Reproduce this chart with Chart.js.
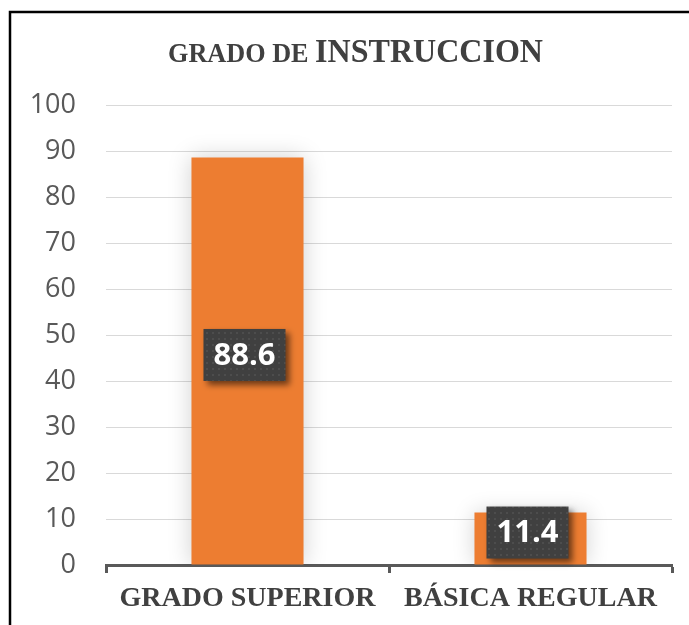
<!DOCTYPE html>
<html>
<head>
<meta charset="utf-8">
<script src="https://cdn.jsdelivr.net/npm/chart.js@4"></script>
<style>
  html, body { margin: 0; padding: 0; background: #fff; }
  #wrap { width: 689px; height: 625px; position: relative; }
</style>
</head>
<body>
<div id="wrap"><canvas id="chart1"></canvas></div>
<script>
const categories = ['GRADO SUPERIOR', 'BÁSICA REGULAR'];
const values = [88.6, 11.4];
const yTicks = [0, 10, 20, 30, 40, 50, 60, 70, 80, 90, 100];

// patrón de puntos para las etiquetas
function dotPattern(ctx) {
    const c = document.createElement('canvas');
    c.width = 6; c.height = 6;
    const p = c.getContext('2d');
    p.fillStyle = '#404040';
    p.fillRect(0, 0, 6, 6);
    p.fillStyle = '#4d4d4d';
    p.fillRect(2, 2, 2, 2);
    return ctx.createPattern(c, 'repeat');
}

const frame = {
    id: 'frame',
    beforeDraw(chart) {
        const ctx = chart.ctx;
        ctx.save();
        ctx.fillStyle = '#fff';
        ctx.fillRect(0, 0, chart.width, chart.height);
        ctx.strokeStyle = '#000';
        ctx.lineWidth = 2.5;
        ctx.beginPath();
        ctx.moveTo(10, chart.height + 2);
        ctx.lineTo(10, 12);
        ctx.lineTo(chart.width + 2, 12);
        ctx.stroke();
        ctx.restore();
    },
    afterDraw(chart) {
        // título con dos tamaños, un poco condensado
        const ctx = chart.ctx;
        ctx.save();
        ctx.fillStyle = '#404040';
        ctx.textBaseline = 'alphabetic';
        const f1 = 'bold 27px "Liberation Serif"';
        const f2 = 'bold 33px "Liberation Serif"';
        ctx.font = f1;
        const w1 = ctx.measureText('GRADO DE ').width;
        ctx.font = f2;
        const w2 = ctx.measureText('INSTRUCCION').width;
        const sx = 375 / (w1 + w2);
        ctx.translate(168, 62);
        ctx.scale(sx, 1);
        ctx.font = f1;
        ctx.fillText('GRADO DE ', 0, 0);
        ctx.font = f2;
        ctx.fillText('INSTRUCCION', w1, 0);
        ctx.restore();
    }
};

const barGlow = {
    id: 'barGlow',
    beforeDatasetsDraw(chart) {
        const ctx = chart.ctx;
        ctx.save();
        ctx.shadowColor = 'rgba(0,0,0,0.18)';
        ctx.shadowBlur = 22;
    },
    afterDatasetsDraw(chart) {
        const ctx = chart.ctx;
        ctx.restore();
        // etiquetas de datos
        const meta = chart.getDatasetMeta(0);
        ctx.save();
        ctx.font = 'bold 31px "Open Sans"';
        ctx.textAlign = 'center';
        ctx.textBaseline = 'middle';
        const pat = dotPattern(ctx);
        meta.data.forEach((bar, i) => {
            const txt = String(values[i]);
            const w = ctx.measureText(txt).width + 20;
            const h = 52;
            const cx = bar.x - 3;
            const cy = (bar.y + bar.base) / 2 - 6;
            ctx.save();
            ctx.shadowColor = 'rgba(0,0,0,0.55)';
            ctx.shadowBlur = 6;
            ctx.shadowOffsetX = 4;
            ctx.shadowOffsetY = 4;
            ctx.fillStyle = pat;
            ctx.fillRect(cx - w / 2, cy - h / 2, w, h);
            ctx.restore();
            ctx.fillStyle = '#fff';
            ctx.fillText(txt, cx, cy + 1);
        });
        ctx.restore();
    }
};

document.addEventListener('DOMContentLoaded', () => {
    const el = document.getElementById('chart1');
    new Chart(el.getContext('2d'), {
        type: 'bar',
        data: {
            labels: categories,
            datasets: [{
                data: values,
                backgroundColor: '#ED7D31',
                borderWidth: 0,
                barPercentage: 0.396,
                categoryPercentage: 1
            }]
        },
        plugins: [frame, barGlow],
        options: {
            responsive: true,
            maintainAspectRatio: false,
            animation: false,
            layout: { padding: { top: 105, right: 17, left: 0, bottom: 0 } },
            plugins: {
                legend: { display: false },
                title: { display: false },
                tooltip: { enabled: false }
            },
            scales: {
                x: {
                    offset: true,
                    afterFit: (s) => { s.height = 60; },
                    border: { display: true, color: '#595959', width: 3 },
                    grid: {
                        offset: true,
                        drawOnChartArea: false,
                        drawTicks: true,
                        tickLength: 8,
                        tickWidth: 3,
                        tickColor: '#595959'
                    },
                    ticks: {
                        padding: 9,
                        color: '#404040',
                        font: { family: '"Liberation Serif"', size: 28, weight: 'bold' }
                    }
                },
                y: {
                    min: 0,
                    max: 100,
                    afterFit: (s) => { s.width = 106; },
                    afterBuildTicks: (s) => { s.ticks = yTicks.map(v => ({ value: v })); },
                    border: { display: false },
                    grid: { color: '#d9d9d9', lineWidth: 1, drawTicks: false },
                    ticks: {
                        padding: 30,
                        color: '#595959',
                        font: { family: '"Open Sans"', size: 27 }
                    }
                }
            }
        }
    });
});
</script>
</body>
</html>
